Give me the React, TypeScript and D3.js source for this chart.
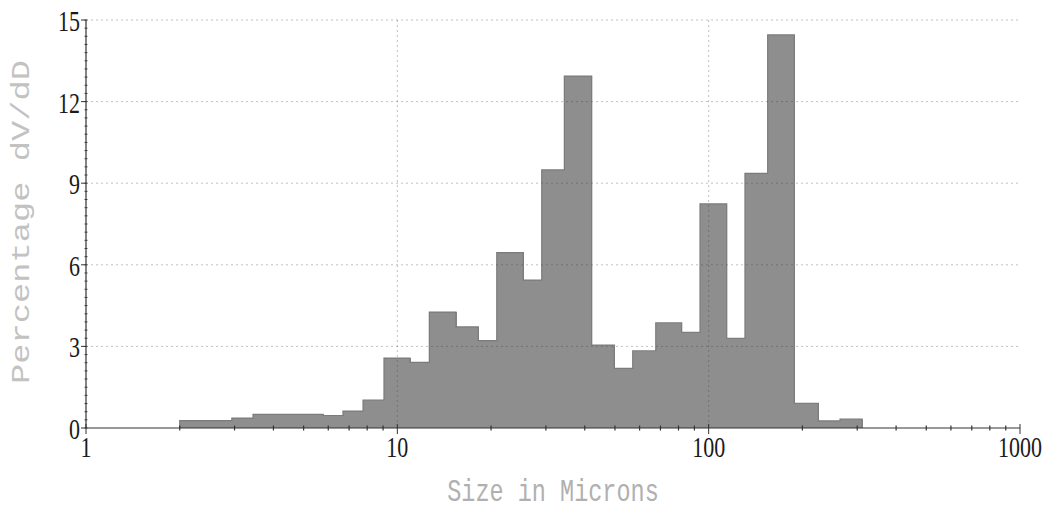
import React from "react";
import * as d3 from "d3";

// Particle size distribution: bin edges (microns) and volume percentage per bin
const binLower = [2.0, 2.94, 3.44, 5.77, 6.69, 7.76, 9.06, 10.98, 12.67, 15.43, 18.2, 20.86, 25.39, 29.09, 34.39, 42.11, 49.78, 57.02, 67.61, 81.91, 93.8, 114.3, 130.8, 154.7, 188.4, 225.0, 264.2];
const binUpper = [2.94, 3.44, 5.77, 6.69, 7.76, 9.06, 10.98, 12.67, 15.43, 18.2, 20.86, 25.39, 29.09, 34.39, 42.11, 49.78, 57.02, 67.61, 81.91, 93.8, 114.3, 130.8, 154.7, 188.4, 225.0, 264.2, 310.9];
const percentValues = [0.27, 0.36, 0.5, 0.46, 0.62, 1.03, 2.57, 2.41, 4.26, 3.72, 3.21, 6.45, 5.44, 9.49, 12.94, 3.05, 2.19, 2.84, 3.87, 3.52, 8.24, 3.3, 9.36, 14.45, 0.91, 0.26, 0.33];

const yTicks = [0, 3, 6, 9, 12, 15];
const xTicks = [1, 10, 100, 1000];
const xTitle = "Size in Microns";
const yTitle = "Percentage   dV/dD";

const W = 1047;
const H = 513;
const left = 86;
const right = 1020;
const top = 20;
const bottom = 428;
const stretch = 1.35;

export default function App() {
  const x = d3.scaleLog().domain([1, 1000]).range([left, right]);
  const y = d3.scaleLinear().domain([0, 15]).range([bottom, top]);

  const minorX: number[] = [];
  for (const dec of [1, 10, 100]) {
    for (let k = 2; k <= 9; k++) minorX.push(dec * k);
  }
  const minorY = d3.range(0, 15.0001, 0.3);

  const bins = percentValues.map((v, i) => ({ lo: binLower[i], hi: binUpper[i], v }));

  // stepped outline across the tops of the bars
  const outline = d3.path();
  outline.moveTo(x(bins[0].lo), y(0));
  bins.forEach((b) => {
    outline.lineTo(x(b.lo), y(b.v));
    outline.lineTo(x(b.hi), y(b.v));
  });
  outline.lineTo(x(bins[bins.length - 1].hi), y(0));

  return (
    <svg
      width={W}
      height={H}
      style={{ position: "absolute", left: 0, top: 0, background: "#fff" }}
    >
      {/* bars */}
      <g shapeRendering="crispEdges">
        {bins.map((b, i) => (
          <rect
            key={i}
            x={x(b.lo)}
            y={y(b.v)}
            width={x(b.hi) - x(b.lo) + 0.6}
            height={y(0) - y(b.v)}
            fill="#8e8e8e"
          />
        ))}
      </g>
      <path d={outline.toString()} fill="none" stroke="#7b7b7b" strokeWidth={1.2} />

      {/* dotted grid, drawn over the bars */}
      <g stroke="rgba(60,60,60,0.32)" strokeWidth={1} strokeDasharray="2,3">
        {yTicks.slice(1).map((t) => (
          <line key={"gy" + t} x1={left} x2={right} y1={y(t)} y2={y(t)} />
        ))}
        {[10, 100].map((t) => (
          <line key={"gx" + t} x1={x(t)} x2={x(t)} y1={top} y2={bottom} />
        ))}
      </g>

      {/* y axis */}
      <g stroke="#333">
        <line x1={left} x2={left} y1={top} y2={bottom} strokeWidth={1.2} />
        {minorY.map((t, i) => (
          <line key={"my" + i} x1={left - 1.5} x2={left + 1.5} y1={y(t)} y2={y(t)} strokeWidth={0.9} />
        ))}
        {yTicks.map((t) => (
          <line key={"ty" + t} x1={left - 5} x2={left} y1={y(t)} y2={y(t)} strokeWidth={1} />
        ))}
      </g>
      <g fontFamily="'Liberation Serif', serif" fontSize={22} fill="#1a1a1a">
        {yTicks.map((t) => (
          <text
            key={"ly" + t}
            textAnchor="end"
            transform={`translate(${left - 6},${y(t) + 11}) scale(1,${stretch})`}
          >
            {t}
          </text>
        ))}
      </g>

      {/* x axis */}
      <g stroke="#333">
        <line x1={left} x2={right} y1={bottom} y2={bottom} strokeWidth={1.2} />
        {minorX.map((t) => (
          <line key={"mx" + t} x1={x(t)} x2={x(t)} y1={bottom - 2.5} y2={bottom + 2.5} strokeWidth={1.2} />
        ))}
        {xTicks.map((t) => (
          <line key={"tx" + t} x1={x(t)} x2={x(t)} y1={bottom - 4} y2={bottom + 6} strokeWidth={1} />
        ))}
      </g>
      <g fontFamily="'Liberation Serif', serif" fontSize={22} fill="#1a1a1a">
        {xTicks.map((t) => (
          <text
            key={"lx" + t}
            textAnchor="middle"
            transform={`translate(${x(t)},${bottom + 29}) scale(1,${stretch})`}
          >
            {t}
          </text>
        ))}
      </g>

      {/* axis titles */}
      <text
        fontFamily="'Liberation Mono', monospace"
        fontSize={23.5}
        fill="#b0b0b0"
        textAnchor="middle"
        transform={`translate(553,501) scale(1,${stretch})`}
      >
        {xTitle}
      </text>
      <text
        fontFamily="'Liberation Mono', monospace"
        fontSize={25}
        fill="#c2c2c2"
        textAnchor="middle"
        transform={`translate(29,222) scale(1,${stretch}) rotate(-90)`}
      >
        {yTitle}
      </text>
    </svg>
  );
}
